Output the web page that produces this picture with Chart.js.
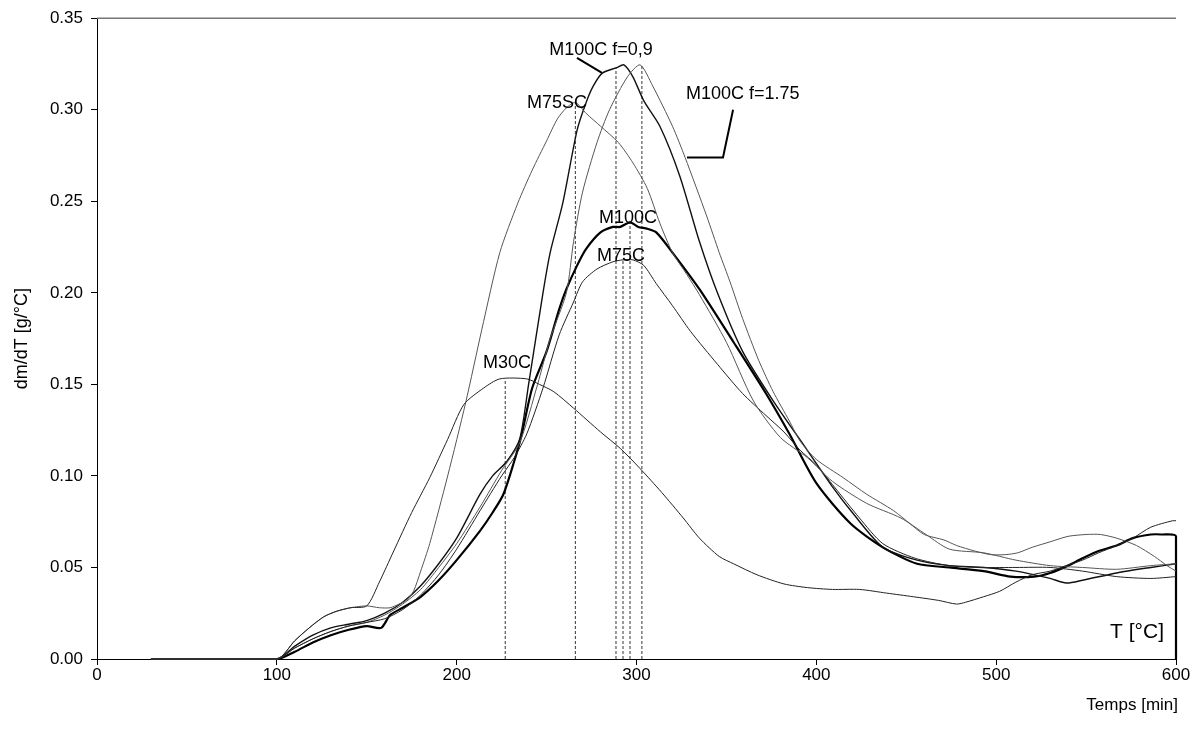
<!DOCTYPE html>
<html>
<head>
<meta charset="utf-8">
<script src="https://cdn.jsdelivr.net/npm/chart.js@4/dist/chart.umd.min.js"></script>
<style>
  html, body { margin: 0; padding: 0; background: #fff; }
</style>
</head>
<body>
<canvas id="chart" width="1199" height="742"></canvas>
<script>
// temperature (x) and dm/dT (y) per sample
const tM30C = [30,100,110,118,126,133,141,150,157,165,175,185,195,204,215,224,239,246,254,265,280,291,302,314,326,335,346,354,367,382,395,409,424,439,454,468,478,483,493,502,511,520,530,539,548,557,567,576,586,598,600];
const vM30C = [0,0,0.010,0.017,0.023,0.026,0.028,0.029,0.042,0.059,0.080,0.099,0.120,0.139,0.148,0.153,0.153,0.150,0.146,0.137,0.124,0.115,0.104,0.091,0.077,0.066,0.056,0.052,0.046,0.041,0.039,0.038,0.038,0.036,0.034,0.032,0.030,0.031,0.034,0.037,0.042,0.046,0.048,0.051,0.054,0.058,0.062,0.066,0.072,0.0755,0.0755];

const tM75SC = [30,100,110,118,126,133,141,150,157,163,168,172,176,180,185,195,205,214,224,234,242,250,256,261,266,272,280,290,298,306,313,320,328,335,350,365,380,395,409,428,447,461,474,493,511,530,548,567,586,600];
const vM75SC = [0,0,0.010,0.017,0.023,0.026,0.028,0.029,0.028,0.028,0.030,0.032,0.037,0.048,0.063,0.100,0.140,0.180,0.222,0.249,0.267,0.283,0.295,0.301,0.304,0.298,0.291,0.282,0.271,0.257,0.238,0.222,0.210,0.199,0.173,0.141,0.121,0.110,0.097,0.085,0.077,0.068,0.060,0.058,0.054,0.051,0.050,0.049,0.051,0.052];

const tM75C = [30,100,110,120,130,140,150,160,170,180,190,200,213,225,232,239,248,257,265,270,278,287,292.5,298,304,311,320,330,345,359,372,382,391,400,410,424,437,455,474,493,511,530,548,567,586,600];
const vM75C = [0,0,0.006,0.011,0.015,0.018,0.020,0.022,0.027,0.035,0.046,0.060,0.081,0.100,0.110,0.123,0.148,0.177,0.195,0.206,0.213,0.217,0.218,0.218,0.215,0.205,0.193,0.179,0.161,0.145,0.133,0.124,0.114,0.106,0.094,0.077,0.063,0.055,0.051,0.050,0.050,0.050,0.048,0.045,0.044,0.045];

const tM100C = [30,100,110,120,130,140,150,158,163,170,180,190,200,213,220,226,232,236,242,250,257,261,267,272,280,287,291,296.4,301,306,311,320,335,354,372,385,400,419,437,456,474,493,508,521,530,540,548,557,567,576,586,592,600,600];
const vM100C = [0,0,0.004,0.009,0.013,0.016,0.018,0.017,0.024,0.028,0.034,0.043,0.054,0.070,0.080,0.090,0.108,0.122,0.148,0.168,0.191,0.202,0.215,0.224,0.233,0.236,0.236,0.2385,0.236,0.235,0.233,0.222,0.202,0.173,0.145,0.123,0.096,0.074,0.061,0.052,0.050,0.048,0.045,0.045,0.047,0.051,0.055,0.059,0.062,0.066,0.068,0.068,0.067,0];

const tF09 = [30,100,110,120,130,140,150,160,170,180,190,200,213,220,228,235,240,248,252,259,267,272,276,281,289,293,298,304,313,324,335,345,359,376,395,409,420,437,456,474,493,511,530,539,548,567,586,600];
const vF09 = [0,0,0.007,0.013,0.017,0.019,0.021,0.025,0.031,0.040,0.052,0.066,0.090,0.100,0.108,0.120,0.150,0.200,0.222,0.249,0.289,0.304,0.313,0.320,0.323,0.3245,0.318,0.305,0.291,0.264,0.228,0.200,0.168,0.141,0.114,0.094,0.080,0.061,0.054,0.051,0.050,0.048,0.044,0.0415,0.043,0.047,0.050,0.052];

const tF175 = [30,100,110,120,130,140,150,160,170,180,190,200,213,225,235,245,252,261,265,270,278,285,295,302,309,320,327,339,346,352,359,368,376,385,391,400,415,428,443,452,460,471,478,488,497,505,512,520,530,540,550,558,567,578,588,595,600];
const vF175 = [0,0,0.006,0.011,0.015,0.018,0.020,0.024,0.030,0.038,0.050,0.063,0.083,0.103,0.118,0.150,0.175,0.200,0.228,0.255,0.282,0.300,0.318,0.3245,0.313,0.291,0.274,0.242,0.222,0.206,0.186,0.163,0.146,0.130,0.119,0.109,0.099,0.090,0.081,0.074,0.068,0.065,0.062,0.059,0.057,0.057,0.058,0.061,0.064,0.067,0.068,0.068,0.066,0.062,0.056,0.051,0.048];

// peak temperatures (dashed drop lines)
const peakT = [227, 266, 288.6, 292.5, 296.4, 303];
const peakV = [0.153, 0.304, 0.323, 0.218, 0.2385, 0.3245];

const xTicks = [0, 100, 200, 300, 400, 500, 600];
const yTicks = [0, 0.05, 0.10, 0.15, 0.20, 0.25, 0.30, 0.35];

const FONT = 'Arial, "Liberation Sans", sans-serif';
Chart.defaults.font.family = FONT;

function pts(t, v) {
    return t.map((x, i) => ({ x: x, y: v[i] }));
}

function series(label, t, v, width, color) {
    return {
        label: label,
        data: pts(t, v),
        borderColor: color,
        borderWidth: width,
        pointRadius: 0,
        tension: 0.25,
        fill: false,
        clip: 4
    };
}

let dropData = [];
peakT.forEach((t, i) => {
    dropData.push({ x: t, y: 0 }, { x: t, y: peakV[i] }, { x: t, y: null });
});

// text and leader lines on the plot, in data units
const notes = [
    { text: 'M100C f=0,9', x: 280.3, y: 0.3299, align: 'center' },
    { text: 'M75SC', x: 255.8, y: 0.3011, align: 'center' },
    { text: 'M100C f=1.75', x: 327.5, y: 0.3060, align: 'left' },
    { text: 'M100C', x: 295.3, y: 0.2380, align: 'center' },
    { text: 'M75C', x: 291.4, y: 0.2174, align: 'center' },
    { text: 'M30C', x: 228, y: 0.1592, align: 'center' }
];
const leaders = [
    [[266.9, 0.3283], [280.8, 0.3201]],
    [[353.7, 0.3000], [348.1, 0.2739], [328.1, 0.2739]]
];

const extras = {
    id: 'extras',
    afterDraw(chart) {
        const ctx = chart.ctx;
        const a = chart.chartArea;
        const xs = chart.scales.x, ys = chart.scales.y;
        ctx.save();

        // top frame line
        ctx.strokeStyle = '#777';
        ctx.lineWidth = 1.5;
        ctx.beginPath();
        ctx.moveTo(a.left, a.top);
        ctx.lineTo(a.right, a.top);
        ctx.stroke();

        ctx.strokeStyle = '#000';
        ctx.lineWidth = 2;
        leaders.forEach(line => {
            ctx.beginPath();
            line.forEach((p, i) => {
                const px = xs.getPixelForValue(p[0]), py = ys.getPixelForValue(p[1]);
                if (i === 0) ctx.moveTo(px, py); else ctx.lineTo(px, py);
            });
            ctx.stroke();
        });

        ctx.fillStyle = '#000';
        ctx.textBaseline = 'alphabetic';
        ctx.font = '18px ' + FONT;
        notes.forEach(n => {
            ctx.textAlign = n.align;
            ctx.fillText(n.text, xs.getPixelForValue(n.x), ys.getPixelForValue(n.y));
        });

        ctx.font = '21px ' + FONT;
        ctx.textAlign = 'right';
        ctx.fillText('T [°C]', a.right - 12, a.bottom - 21);

        ctx.font = '17px ' + FONT;
        ctx.textAlign = 'right';
        ctx.fillText('Temps [min]', a.right + 2, a.bottom + 51);

        ctx.translate(22, (a.top + a.bottom) / 2);
        ctx.rotate(-Math.PI / 2);
        ctx.textAlign = 'center';
        ctx.textBaseline = 'middle';
        ctx.font = '18px ' + FONT;
        ctx.fillText('dm/dT [g/°C]', 0, 0);
        ctx.restore();
    }
};

new Chart(document.getElementById('chart').getContext('2d'), {
    type: 'line',
    data: {
        datasets: [
            series('M30C', tM30C, vM30C, 1, '#222'),
            series('M75SC', tM75SC, vM75SC, 1, '#555'),
            series('M75C', tM75C, vM75C, 1, '#222'),
            series('M100C f=1.75', tF175, vF175, 1, '#555'),
            series('M100C f=0,9', tF09, vF09, 1.4, '#111'),
            series('M100C', tM100C, vM100C, 2.2, '#000'),
            {
                label: 'peaks',
                data: dropData,
                borderColor: '#333',
                borderWidth: 1,
                borderDash: [3, 2],
                pointRadius: 0,
                tension: 0,
                spanGaps: false
            }
        ]
    },
    options: {
        responsive: false,
        animation: false,
        devicePixelRatio: 1,
        layout: { padding: { left: 0, top: 12, right: 23, bottom: 0 } },
        plugins: {
            legend: { display: false },
            tooltip: { enabled: false }
        },
        scales: {
            x: {
                type: 'linear',
                min: 0,
                max: 600,
                afterBuildTicks: s => { s.ticks = xTicks.map(v => ({ value: v })); },
                afterFit: s => { s.height = 83; },
                ticks: { color: '#000', font: { size: 17 }, padding: 0, maxRotation: 0 },
                grid: { drawOnChartArea: false, drawTicks: true, tickLength: 6, tickColor: '#000' },
                border: { color: '#000', width: 1 }
            },
            y: {
                type: 'linear',
                min: 0,
                max: 0.35,
                afterBuildTicks: s => { s.ticks = yTicks.map(v => ({ value: v })); },
                afterFit: s => { s.width = 97; },
                ticks: { color: '#000', font: { size: 17 }, padding: 8, callback: v => v.toFixed(2) },
                grid: { drawOnChartArea: false, drawTicks: true, tickLength: 6, tickColor: '#000' },
                border: { color: '#000', width: 1 }
            }
        }
    },
    plugins: [extras]
});
</script>
</body>
</html>
